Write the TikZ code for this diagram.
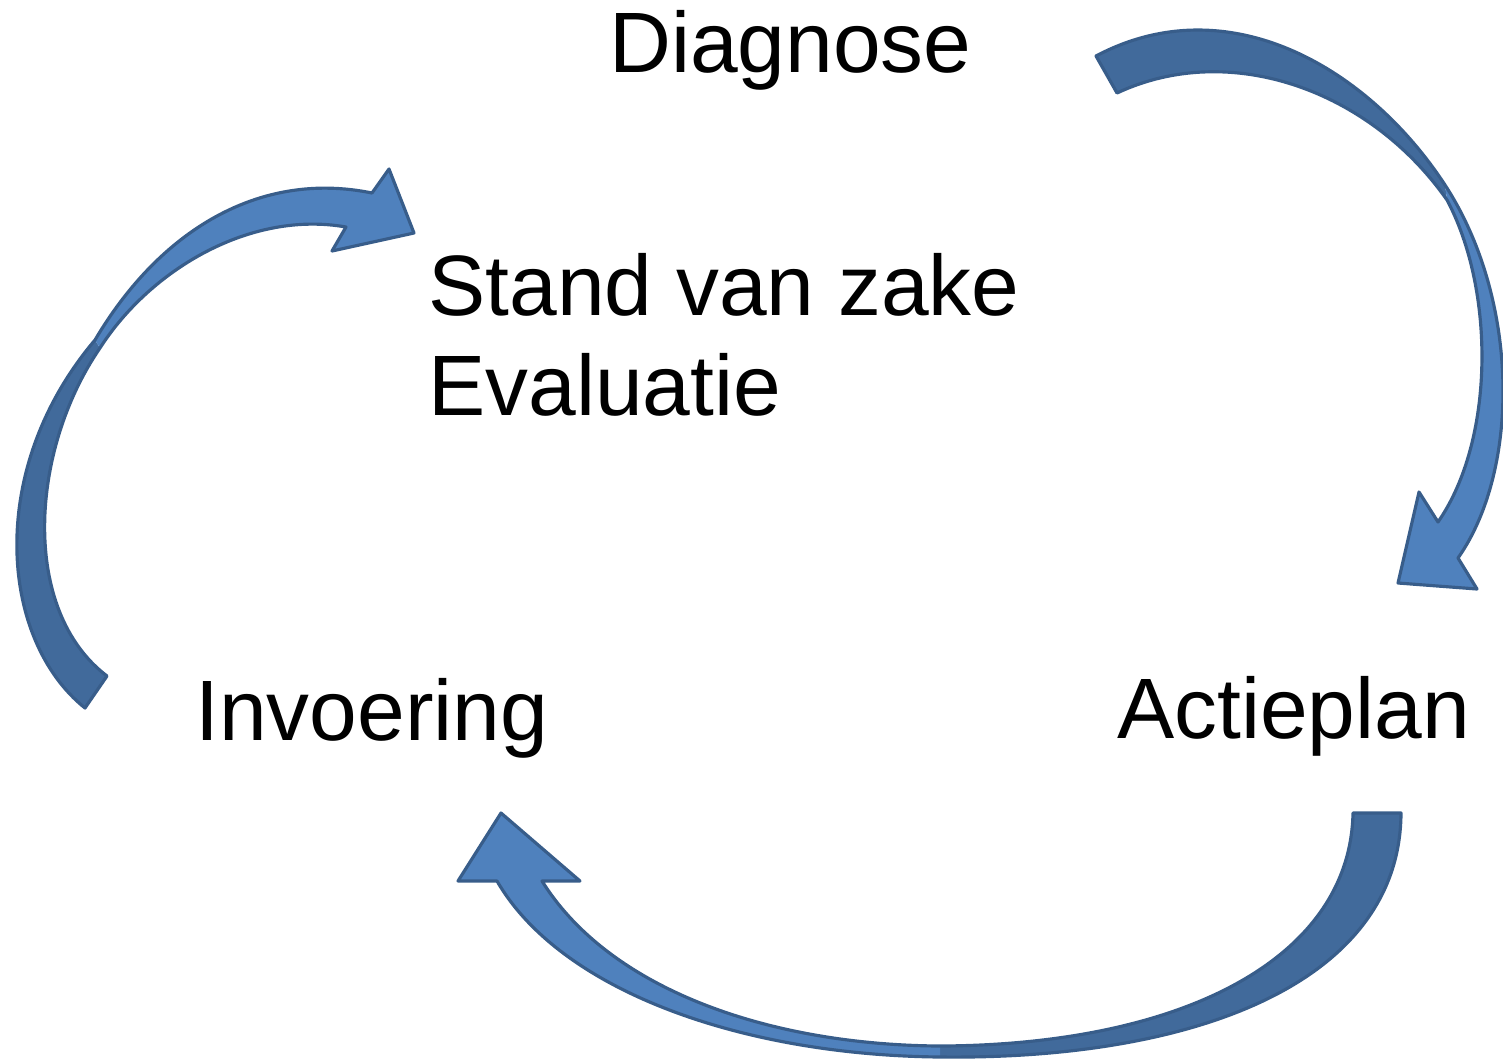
\documentclass[tikz,border=0pt]{standalone}
\usepackage{fontspec}
\setmainfont{Liberation Sans}
\definecolor{arrlight}{HTML}{4F81BD}
\definecolor{arrdark}{HTML}{416A9B}
\definecolor{arrline}{HTML}{385D8A}
\begin{document}
\begin{tikzpicture}[x=0.02cm,y=-0.02cm,
  lbl/.style={inner sep=0pt,anchor=base west,font=\fontsize{48.8}{58}\selectfont},
  outline/.style={draw=arrline,line width=1.8pt,line join=round}]
\useasboundingbox (0,0) rectangle (1503,1059);

% ---- labels
\node[lbl] (diag) at (609,72) {Diagnose};
\node[lbl] (svz) at (428,315) {Stand van zake};
\node[lbl] (eval) at (428,415) {Evaluatie};
\node[lbl] (inv) at (195,740) {Invoering};
\node[lbl] (actie) at (1117,738) {Actieplan};

% ---- arrow A: Diagnose -> Actieplan
\fill[arrdark] (1096,56) .. controls (1230,-15) and (1370,70) .. (1445,185)
  -- (1447,200) .. controls (1370,90) and (1230,40) .. (1117,93) -- cycle;
\fill[arrlight] (1445,185) .. controls (1520,300) and (1520,470) .. (1458,558)
  -- (1477,589) -- (1398,583) -- (1419,492) -- (1438,522)
  .. controls (1495,440) and (1495,290) .. (1447,200) -- cycle;
\path[outline] (1096,56) .. controls (1230,-15) and (1370,70) .. (1445,185)
  .. controls (1520,300) and (1520,470) .. (1458,558)
  -- (1477,589) -- (1398,583) -- (1419,492) -- (1438,522)
  .. controls (1495,440) and (1495,290) .. (1447,200)
  .. controls (1370,90) and (1230,40) .. (1117,93) -- cycle;

% ---- arrow B: Invoering -> Stand van zake
\fill[arrdark] (85,708) .. controls (0,640) and (-15,470) .. (95,340)
  -- (100,348) .. controls (30,450) and (20,610) .. (107,676) -- cycle;
\fill[arrlight] (95,340) .. controls (160,230) and (260,170) .. (372,193)
  -- (389,169) -- (414,233) -- (332,251) -- (346,227)
  .. controls (250,210) and (150,270) .. (100,348) -- cycle;
\path[outline] (85,708) .. controls (0,640) and (-15,470) .. (95,340)
  .. controls (160,230) and (260,170) .. (372,193)
  -- (389,169) -- (414,233) -- (332,251) -- (346,227)
  .. controls (250,210) and (150,270) .. (100,348)
  .. controls (30,450) and (20,610) .. (107,676) -- cycle;

% ---- arrow C: Actieplan -> Invoering
\fill[arrdark] (1401,813) .. controls (1400,980) and (1200,1060) .. (940,1057)
  -- (940,1046) .. controls (1180,1045) and (1350,960) .. (1353,813) -- cycle;
\fill[arrlight] (940,1057) .. controls (740,1055) and (560,990) .. (497,881)
  -- (458,881) -- (501,813) -- (580,881) -- (542,881)
  .. controls (610,990) and (770,1045) .. (940,1046) -- cycle;
\path[outline] (1401,813) .. controls (1400,980) and (1200,1060) .. (940,1057)
  .. controls (740,1055) and (560,990) .. (497,881)
  -- (458,881) -- (501,813) -- (580,881) -- (542,881)
  .. controls (610,990) and (770,1045) .. (940,1046)
  .. controls (1180,1045) and (1350,960) .. (1353,813) -- cycle;
\end{tikzpicture}
\end{document}
